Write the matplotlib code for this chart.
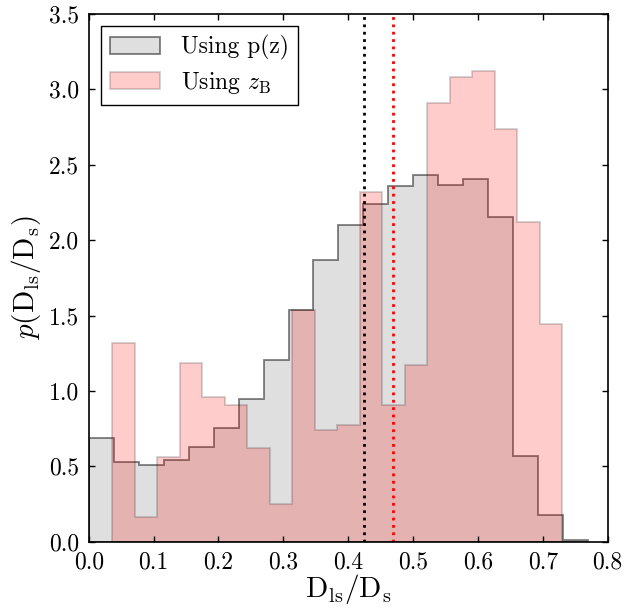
import numpy as np
import matplotlib
matplotlib.use("Agg")
import matplotlib.pyplot as plt

# ---- data ----
gray_edges = np.linspace(0.0, 0.77, 21)
gray_heights = [0.687, 0.531, 0.511, 0.543, 0.625, 0.753, 0.945, 1.207, 1.540, 1.871,
                2.101, 2.242, 2.357, 2.433, 2.369, 2.406, 2.154, 0.569, 0.175, 0.010]
pink_edges = np.linspace(0.036, 0.730, 21)
pink_heights = [1.320, 0.166, 0.565, 1.185, 0.963, 0.908, 0.624, 0.250, 1.535, 0.742,
                0.775, 2.320, 0.906, 1.171, 2.911, 3.084, 3.121, 2.740, 2.118, 1.446]
vline_black = 0.425
vline_red = 0.469
labels = ["Using p(z)", r"Using $z_\mathrm{B}$"]
xticks = [0.0, 0.1, 0.2, 0.3, 0.4, 0.5, 0.6, 0.7, 0.8]
yticks = [0.0, 0.5, 1.0, 1.5, 2.0, 2.5, 3.0, 3.5]

plt.rcParams['font.family'] = ['cmr10', 'DejaVu Serif']
plt.rcParams['mathtext.fontset'] = 'cm'
plt.rcParams['axes.formatter.use_mathtext'] = True

fig = plt.figure(figsize=(6.43, 6.08), dpi=100)
ax = fig.add_axes([0.138, 0.109, 0.807, 0.868])

gray_centers = 0.5 * (gray_edges[:-1] + gray_edges[1:])
pink_centers = 0.5 * (pink_edges[:-1] + pink_edges[1:])

ax.hist(gray_centers, bins=gray_edges, weights=gray_heights, histtype='stepfilled',
        facecolor=(0.5, 0.5, 0.5, 0.25), edgecolor=(0, 0, 0, 0.5), linewidth=1.3,
        label=labels[0])
ax.hist(pink_centers, bins=pink_edges, weights=pink_heights, histtype='stepfilled',
        facecolor=(1, 0, 0, 0.2), edgecolor=(0, 0, 0, 0.18), linewidth=1.3,
        label=labels[1])

ax.axvline(vline_black, color='k', linestyle=':', linewidth=2)
ax.axvline(vline_red, color='r', linestyle=':', linewidth=2)

ax.set_xlim(0, 0.8)
ax.set_ylim(0, 3.5)
ax.set_xticks(xticks)
ax.set_yticks(yticks)
ax.set_xticklabels([f"{v:.1f}" for v in xticks])
ax.set_yticklabels([f"{v:.1f}" for v in yticks])
ax.tick_params(direction='in', top=True, right=True, length=4.5, width=1,
               labelsize=17, pad=7)
for s in ax.spines.values():
    s.set_linewidth(1.2)

ax.set_xlabel(r"$\mathrm{D_{ls}/D_s}$", fontsize=21, labelpad=-1)
ax.set_ylabel(r"$p(\mathrm{D_{ls}/D_s})$", fontsize=21, labelpad=4)

leg = ax.legend(loc='upper left', fontsize=17, fancybox=False, frameon=True,
                handlelength=2.1, handleheight=0.75, handletextpad=0.9,
                borderpad=0.4, labelspacing=0.4, borderaxespad=0.5)
leg.get_frame().set_edgecolor('k')
leg.get_frame().set_linewidth(1.0)
leg.get_frame().set_alpha(1)

fig.savefig("out.png", dpi=100)
